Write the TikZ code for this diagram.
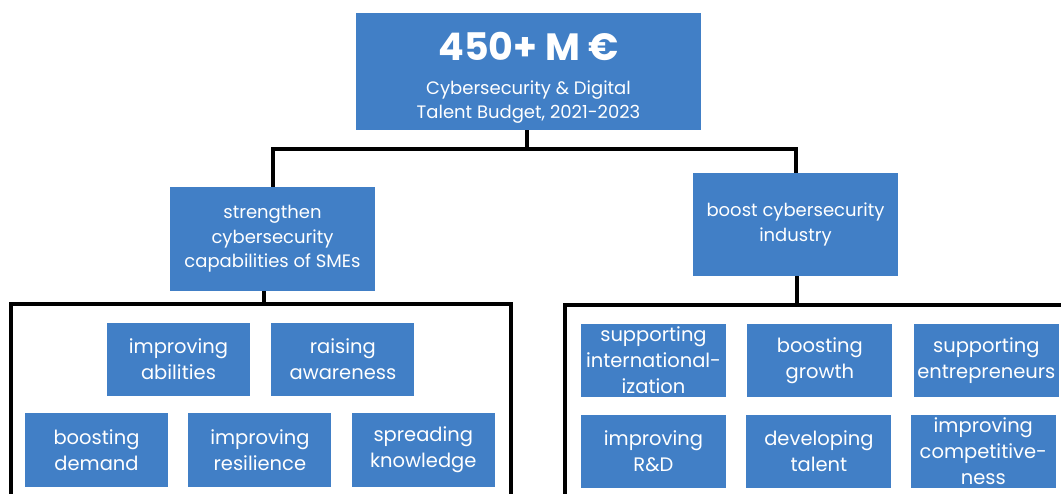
\documentclass[tikz,border=0pt]{standalone}
\usepackage{fontspec}
\setmainfont{Poppins}
\usetikzlibrary{positioning}
\definecolor{boxblue}{RGB}{65,127,198}

\begin{document}
\begin{tikzpicture}[x=1pt,y=-1pt,node distance=20pt]

  \tikzstyle{budget}=[rectangle,fill=boxblue,text=white,align=center,inner sep=0pt,minimum width=345pt,minimum height=117pt,font=\fontsize{18}{24}\selectfont]
  \tikzstyle{goal}=[rectangle,fill=boxblue,text=white,align=center,inner sep=0pt,minimum width=205pt,minimum height=104pt,font=\fontsize{18}{24.5}\selectfont]
  \tikzstyle{action}=[rectangle,fill=boxblue,text=white,align=center,inner sep=0pt,minimum width=143pt,minimum height=73pt,font=\fontsize{19.5}{26}\selectfont]
  \tikzstyle{link}=[draw=black,line width=4pt]

  \useasboundingbox (0,0) rectangle (1061,494);

  % budget and the two goals
  \node [budget] (budget) at (528.5,71.5) {{\fontsize{38}{38}\selectfont\bfseries\rule{0pt}{40pt}450+ M €}\\[10pt]Cybersecurity \& Digital\\Talent Budget, 2021-2023};
  \node [goal] (smes) at (272.5,239) {strengthen\\cybersecurity\\capabilities of SMEs};
  \node [goal,minimum height=103pt] (industry) at (795.5,224.5) {boost cybersecurity\\industry};

  % actions for SMEs
  \node [action] (abilities) at (178.5,359.5) {improving\\abilities};
  \node [action] (awareness) [right=21pt of abilities] {raising\\awareness};
  \node [action] (demand) at (96.5,450) {boosting\\demand};
  \node [action] (resilience) [right=20pt of demand] {improving\\resilience};
  \node [action] (knowledge) [right=20pt of resilience] {spreading\\knowledge};

  % actions for the industry
  \node [action,minimum width=145pt] (intl) at (653.5,360.5) {supporting\\international-\\ization};
  \node [action,minimum width=145pt] (growth) [right=21pt of intl] {boosting\\growth};
  \node [action,minimum width=145pt] (entre) [right=21pt of growth] {supporting\\entrepreneurs};
  \node [action,minimum width=145pt] (rnd) at (653.5,451.5) {improving\\R\&D};
  \node [action,minimum width=145pt] (talent) [right=20pt of rnd] {developing\\talent};
  \node [action,minimum width=145pt] (compet) [right=19pt of talent] {improving\\competitive-\\ness};

  % tree lines
  \coordinate (split) at (527,149);
  \draw [link] (budget.south -| split) -- (split);
  \draw [link] (smes.north) -- (smes.north |- split) -- (industry.north |- split) -- (industry.north);

  \coordinate (lbar) at (264,304);
  \coordinate (lfoot) at (11,500);
  \coordinate (rfoot) at (511,500);
  \draw [link] (smes.south -| lbar) -- (lbar);
  \draw [link] (lfoot) |- (lbar) -| (rfoot);

  \coordinate (rbar) at (797,305);
  \coordinate (rleft) at (565,500);
  \coordinate (rend) at (1066,305);
  \draw [link] (industry.south -| rbar) -- (rbar);
  \draw [link] (rleft) |- (rbar) -- (rend);

\end{tikzpicture}
\end{document}
